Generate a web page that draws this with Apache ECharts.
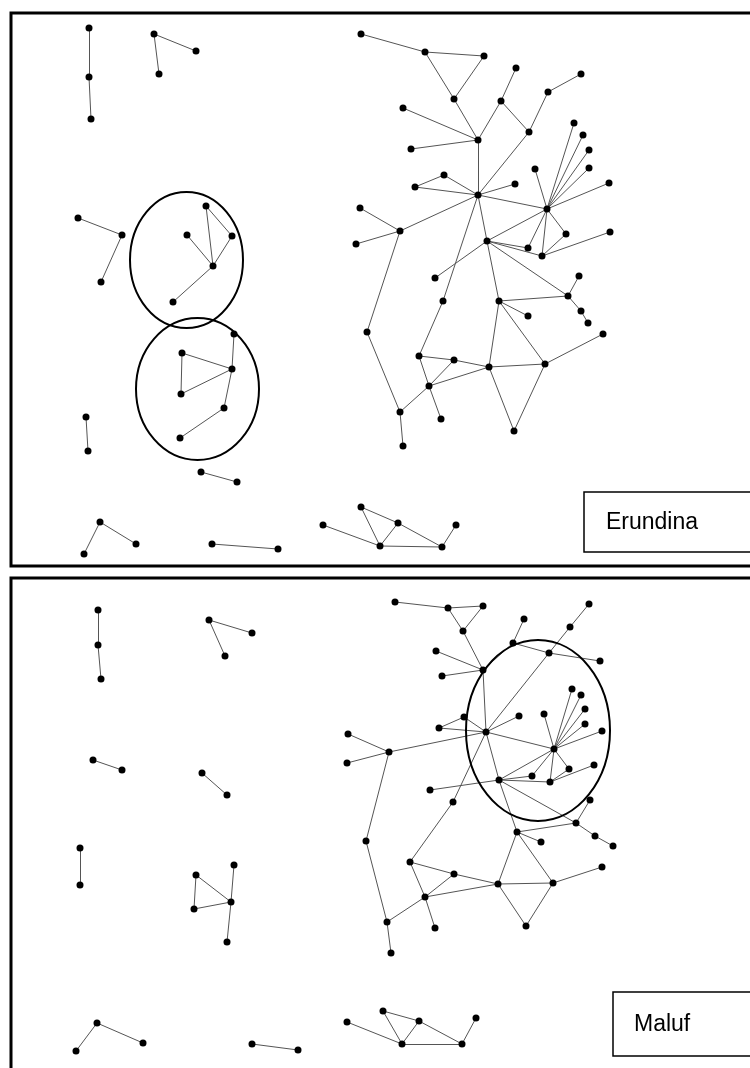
<!DOCTYPE html>
<html>
<head>
<meta charset="utf-8">
<script src="https://cdn.jsdelivr.net/npm/echarts@6/dist/echarts.min.js"></script>
<style>
html,body{margin:0;padding:0;background:#fff;}
#chart{width:750px;height:1068px;}
</style>
</head>
<body>
<div id="chart"></div>
<script>
// ---------- DATA ----------
const panelLabels = ["Erundina", "Maluf"];

// Top panel (Erundina): node name, x, y
const erundinaNodes = [
  ["A1",89,28],["A2",89,77],["A3",91,119],
  ["B1",154,34],["B2",196,51],["B3",159,74],
  ["C1",78,218],["C2",122,235],["C3",101,282],
  ["D1",206,206],["D2",187,235],["D3",232,236],["D4",213,266],["D5",173,302],
  ["E1",234,334],["E2",182,353],["E3",232,369],["E4",181,394],["E5",224,408],["E6",180,438],
  ["F1",86,417],["F2",88,451],
  ["G1",201,472],["G2",237,482],
  ["H1",100,522],["H2",84,554],["H3",136,544],
  ["I1",212,544],["I2",278,549],
  ["J1",323,525],["J2",361,507],["J3",398,523],["J4",380,546],["J5",442,547],["J6",456,525],
  ["n1",361,34],["n2",425,52],["n3",484,56],["n4",454,99],["n5",516,68],["n6",581,74],
  ["n7",548,92],["n8",501,101],["n9",403,108],["n10",529,132],["n11",478,140],["n12",411,149],
  ["n13",574,123],["n14",583,135],["n15",589,150],["n16",589,168],["n17",535,169],["n18",444,175],
  ["n19",515,184],["n20",415,187],["n21",609,183],["n22",478,195],["n23",547,209],["n24",360,208],
  ["n25",400,231],["n26",566,234],["n27",610,232],["n28",356,244],["n29",487,241],["n30",528,248],
  ["n31",542,256],["n32",435,278],["n33",579,276],
  ["m1",443,301],["m2",499,301],["m3",568,296],["m4",528,316],["m5",581,311],["m6",588,323],
  ["m7",367,332],["m8",603,334],["m9",419,356],["m10",454,360],["m11",489,367],["m12",545,364],
  ["m13",429,386],["m14",400,412],["m15",441,419],["m16",514,431],["m17",403,446]
];
const erundinaLinks = [
  ["A1","A2"],["A2","A3"],["B1","B2"],["B1","B3"],["C1","C2"],["C2","C3"],
  ["D1","D4"],["D1","D3"],["D3","D4"],["D2","D4"],["D4","D5"],
  ["E1","E3"],["E2","E3"],["E2","E4"],["E4","E3"],["E3","E5"],["E5","E6"],
  ["F1","F2"],["G1","G2"],["H1","H2"],["H1","H3"],["I1","I2"],
  ["J1","J4"],["J2","J4"],["J2","J3"],["J3","J4"],["J3","J5"],["J4","J5"],["J5","J6"],
  ["n1","n2"],["n2","n3"],["n2","n4"],["n3","n4"],["n4","n11"],["n8","n5"],["n8","n11"],
  ["n8","n10"],["n10","n7"],["n7","n6"],["n9","n11"],["n12","n11"],["n11","n22"],["n10","n22"],
  ["n18","n20"],["n18","n22"],["n20","n22"],["n19","n22"],["n22","n23"],["n22","n25"],
  ["n25","n24"],["n25","n28"],["n22","n29"],["n22","m1"],
  ["n23","n13"],["n23","n14"],["n23","n15"],["n23","n16"],["n23","n21"],["n23","n17"],
  ["n23","n26"],["n23","n30"],["n23","n31"],["n31","n26"],["n31","n27"],["n29","n23"],
  ["n29","n30"],["n29","n31"],["n29","n32"],["n29","m2"],["n29","m3"],["n25","m7"],
  ["m7","m14"],["m14","m17"],["m14","m13"],["m13","m9"],["m13","m10"],["m13","m11"],
  ["m13","m15"],["m9","m10"],["m10","m11"],["m1","m9"],["m2","m4"],["m2","m3"],
  ["m2","m11"],["m2","m12"],["m11","m12"],["m11","m16"],["m12","m16"],["m12","m8"],
  ["m3","n33"],["m3","m5"],["m5","m6"]
];

// Bottom panel (Maluf): node name, x, y
const malufNodes = [
  ["P1",98,610],["P2",98,645],["P3",101,679],
  ["Q1",209,620],["Q2",252,633],["Q3",225,656],
  ["R1",93,760],["R2",122,770],
  ["S1",202,773],["S2",227,795],
  ["T1",80,848],["T2",80,885],
  ["U1",196,875],["U2",234,865],["U3",231,902],["U4",194,909],["U5",227,942],
  ["V1",97,1023],["V2",76,1051],["V3",143,1043],
  ["W1",252,1044],["W2",298,1050],
  ["X1",347,1022],["X2",383,1011],["X3",419,1021],["X4",402,1044],["X5",462,1044],["X6",476,1018],
  ["b1",395,602],["b2",448,608],["b3",483,606],["b4",463,631],["b5",589,604],["b6",524,619],
  ["b7",570,627],["b8",513,643],["b9",549,653],["b10",436,651],["b11",600,661],["b12",483,670],
  ["b13",442,676],["b14",572,689],["b15",581,695],["b16",585,709],["b17",519,716],["b18",544,714],
  ["b19",464,717],["b20",585,724],["b21",439,728],["b22",602,731],["b23",486,732],["b24",348,734],
  ["b25",554,749],["b26",389,752],["b27",347,763],["b28",594,765],["b29",569,769],["b30",532,776],
  ["b31",499,780],["b32",550,782],["b33",430,790],["b34",453,802],["b35",590,800],["b36",576,823],
  ["c1",517,832],["c2",541,842],["c3",595,836],["c4",613,846],["c5",366,841],["c6",410,862],
  ["c7",454,874],["c8",498,884],["c9",553,883],["c10",602,867],["c11",425,897],["c12",387,922],
  ["c13",435,928],["c14",526,926],["c15",391,953]
];
const malufLinks = [
  ["P1","P2"],["P2","P3"],["Q1","Q2"],["Q1","Q3"],["R1","R2"],["S1","S2"],["T1","T2"],
  ["U1","U3"],["U1","U4"],["U4","U3"],["U2","U3"],["U3","U5"],["V1","V2"],["V1","V3"],["W1","W2"],
  ["X1","X4"],["X2","X4"],["X2","X3"],["X3","X4"],["X3","X5"],["X4","X5"],["X5","X6"],
  ["b1","b2"],["b2","b3"],["b2","b4"],["b3","b4"],["b4","b12"],["b12","b10"],["b12","b13"],
  ["b12","b23"],["b8","b12"],["b8","b6"],["b8","b9"],["b9","b7"],["b7","b5"],["b9","b11"],
  ["b9","b23"],["b19","b21"],["b19","b23"],["b21","b23"],["b17","b23"],["b23","b25"],
  ["b23","b26"],["b26","b24"],["b26","b27"],["b23","b31"],["b23","b34"],
  ["b25","b14"],["b25","b15"],["b25","b16"],["b25","b20"],["b25","b22"],["b25","b18"],
  ["b25","b30"],["b25","b32"],["b25","b29"],["b32","b29"],["b32","b28"],["b31","b30"],
  ["b31","b32"],["b31","b25"],["b31","b33"],["b31","b36"],["b31","c1"],["b26","c5"],
  ["b34","c6"],["b35","b36"],["c1","b36"],["b36","c3"],["c3","c4"],["c1","c2"],["c1","c8"],
  ["c1","c9"],["c8","c9"],["c8","c14"],["c9","c14"],["c9","c10"],["c5","c12"],["c12","c15"],
  ["c12","c11"],["c11","c6"],["c11","c7"],["c11","c8"],["c11","c13"],["c6","c7"],["c7","c8"]
];

// ---------- CHART ----------
const chart = echarts.init(document.getElementById('chart'), null, {renderer:'canvas'});

function graphSeries(name, nodes, links) {
  return {
    type: 'graph',
    name: name,
    coordinateSystem: 'cartesian2d',
    layout: 'none',
    symbol: 'circle',
    symbolSize: 7,
    silent: true,
    animation: false,
    label: {show: false},
    itemStyle: {color: '#000'},
    lineStyle: {color: '#555', width: 1, opacity: 1, curveness: 0},
    data: nodes.map(n => ({name: n[0], value: [n[1], n[2]]})),
    links: links.map(l => ({source: l[0], target: l[1]}))
  };
}

const option = {
  backgroundColor: '#fff',
  animation: false,
  grid: {left: 0, right: 0, top: 0, bottom: 0},
  xAxis: {type: 'value', min: 0, max: 750, show: false},
  yAxis: {type: 'value', min: 0, max: 1068, inverse: true, show: false},
  series: [
    graphSeries(panelLabels[0], erundinaNodes, erundinaLinks),
    graphSeries(panelLabels[1], malufNodes, malufLinks)
  ],
  graphic: [
    // panel frames
    {type:'rect', shape:{x:11, y:13, width:780, height:553}, style:{fill:'none', stroke:'#000', lineWidth:3}, z:10},
    {type:'rect', shape:{x:11, y:578, width:780, height:540}, style:{fill:'none', stroke:'#000', lineWidth:3}, z:10},
    // highlight ellipses
    {type:'ellipse', shape:{cx:186.5, cy:260, rx:56.5, ry:68}, style:{fill:'none', stroke:'#000', lineWidth:2}, z:10},
    {type:'ellipse', shape:{cx:197.5, cy:389, rx:61.5, ry:71}, style:{fill:'none', stroke:'#000', lineWidth:2}, z:10},
    {type:'ellipse', shape:{cx:538, cy:730.5, rx:72, ry:90.5}, style:{fill:'none', stroke:'#000', lineWidth:2}, z:10},
    // label boxes
    {type:'rect', shape:{x:584, y:492, width:200, height:60}, style:{fill:'#fff', stroke:'#000', lineWidth:1.5}, z:11},
    {type:'text', x:606, y:523, style:{text:panelLabels[0], font:'23px "Liberation Sans", Arial, sans-serif', fill:'#000', textVerticalAlign:'middle', verticalAlign:'middle'}, z:12},
    {type:'rect', shape:{x:613, y:992, width:200, height:64}, style:{fill:'#fff', stroke:'#000', lineWidth:1.5}, z:11},
    {type:'text', x:634, y:1025, style:{text:panelLabels[1], font:'23px "Liberation Sans", Arial, sans-serif', fill:'#000', textVerticalAlign:'middle', verticalAlign:'middle'}, z:12}
  ]
};
chart.setOption(option);
</script>
</body>
</html>
